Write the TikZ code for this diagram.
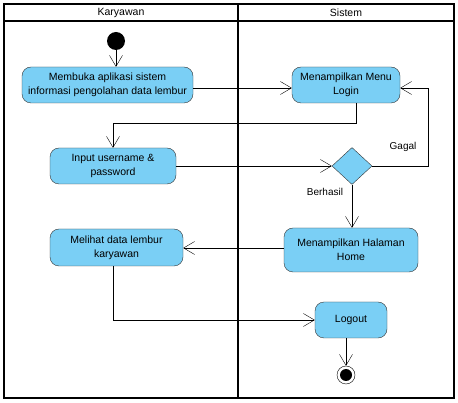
\documentclass[tikz,border=0pt]{standalone}
\usepackage{fontspec}
\setmainfont{Liberation Sans}
\usetikzlibrary{arrows.meta, positioning, shapes.geometric}

\begin{document}
\begin{tikzpicture}[x=1pt, y=-1pt, % pixel grid of the reference
         > = {Straight Barb[length=11pt, width=13pt]},
  activity/.style = {draw=black!80, thin, fill=actblue, rounded corners=9pt,
                     align=center, inner sep=2pt,
                     font=\fontsize{10.5}{14}\selectfont},
  decision/.style = {diamond, draw=black!80, thin, fill=actblue,
                     minimum width=40pt, minimum height=37pt, inner sep=0pt},
     start/.style = {circle, fill=black, minimum size=18pt, inner sep=0pt},
      stop/.style = {circle, draw=black, thin, fill=white, minimum size=18pt,
                     inner sep=0pt,
                     path picture={\fill[black] (path picture bounding box.center) circle (6pt);}},
      flow/.style = {->, thin},
     guard/.style = {font=\fontsize{10}{12}\selectfont},
                    ]
  \definecolor{actblue}{RGB}{122,207,245}
  \useasboundingbox (0,0) rectangle (458,403);

  % swimlanes
  \draw[line width=1.3pt] (4,4) rectangle (454,398);
  \draw[line width=1.3pt] (4,21) -- (454,21);
  \draw[line width=1.3pt] (238,4) -- (238,398);
  \node (laneA) at (121,12.5) {\fontsize{10.5}{12}\selectfont Karyawan};
  \node (laneB) at (346,12.5) {\fontsize{10.5}{12}\selectfont Sistem};

  % activities
  \node[start] (start) at (116,41) {};
  \node[activity, minimum width=171pt, minimum height=36pt] (buka) at (107.5,85)
       {Membuka aplikasi sistem\\informasi pengolahan data lembur};
  \node[activity, minimum width=108pt, minimum height=36pt] (menu) at (346,85)
       {Menampilkan Menu\\Login};
  \node[activity, minimum width=126pt, minimum height=36pt] (input) at (113,166)
       {Input username \&\\password};
  \node[decision] (cek) at (352,166) {};
  \node[activity, minimum width=134pt, minimum height=44pt] (home) at (351,250)
       {Menampilkan Halaman\\Home};
  \node[activity, minimum width=133pt, minimum height=37pt] (lihat) at (116.5,247.5)
       {Melihat data lembur\\karyawan};
  \node[activity, minimum width=72pt, minimum height=36pt] (logout) at (351,320)
       {Logout};
  \node[stop] (stop) at (346,375) {};

  \coordinate (c1) at (356,123);
  \coordinate (c2) at (428,166);
  \coordinate (c3) at (113,320);

  % flows
  \draw[flow] (start) -- (start |- buka.north);
  \draw[flow] (buka.east |- 0,88) -- (menu.west |- 0,88);
  \draw[flow] (menu.south -| c1) -- (c1) -| (input.north);
  \draw[flow] (input.east |- cek) -- (cek.west);
  \draw[flow] (cek.east) -- (c2) |- (menu.east |- 0,88);
  \draw[flow] (cek.south) -- (cek.south |- home.north);
  \draw[flow] (home.west |- 0,248) -- (lihat.east |- 0,248);
  \draw[flow] (lihat.south -| c3) -- (c3) -- (logout.west);
  \draw[flow] (logout.south -| stop) -- (stop.north);

  % guards
  \node[guard] (gagal) at (403,147) {Gagal};
  \node[guard] (berhasil) at (325,192) {Berhasil};
\end{tikzpicture}
\end{document}
